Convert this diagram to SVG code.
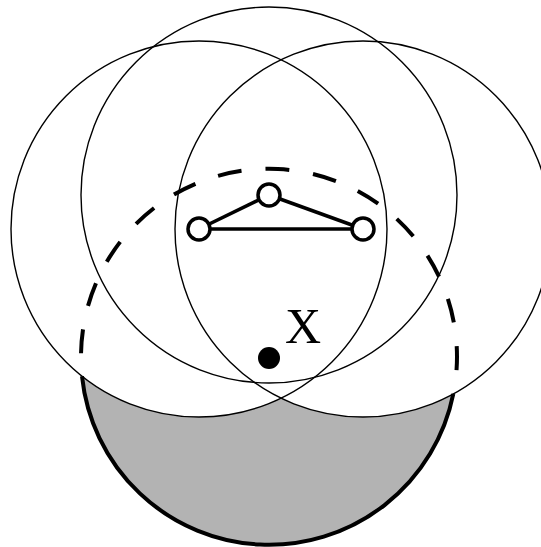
<svg xmlns="http://www.w3.org/2000/svg" width="541" height="547" viewBox="0 0 541 547">
<style>
.thin{fill:none;stroke:#000;stroke-width:1.4}
.node{fill:#fff;stroke:#000;stroke-width:3.5}
.edge{stroke:#000;stroke-width:3.5;fill:none}
</style>
<rect width="541" height="547" fill="#fff"/>
<g id="region">
<path d="M82,376.2 A188,188 0 0 0 281,398.2 A188,188 0 0 0 453.3,393.9 A188,188 0 0 1 82,376.2 Z" fill="#b3b3b3" stroke="none"/>
</g>
<g id="circles">
<circle id="circle-top" class="thin" cx="269" cy="195" r="188"/>
<circle id="circle-left" class="thin" cx="199" cy="229" r="188"/>
<circle id="circle-right" class="thin" cx="363" cy="229" r="188"/>
</g>
<g id="range">
<path d="M453.3,393.9 A188,188 0 0 1 82,376.2" fill="none" stroke="#000" stroke-width="4"/>
<path d="M82,376.2 A188,188 0 1 1 453.3,393.9" fill="none" stroke="#000" stroke-width="4" stroke-dasharray="24 24" stroke-dashoffset="25"/>
</g>
<g id="connectors">
<line class="edge" x1="199" y1="229" x2="363" y2="229"/>
<line class="edge" x1="199" y1="229" x2="269" y2="195"/>
<line class="edge" x1="269" y1="195" x2="363" y2="229"/>
</g>
<g id="node-a"><circle class="node" cx="199" cy="229" r="11"/></g>
<g id="node-b"><circle class="node" cx="269" cy="195" r="11"/></g>
<g id="node-c"><circle class="node" cx="363" cy="229" r="11"/></g>
<g id="point-x">
<circle cx="269" cy="358" r="11" fill="#000"/>
<text x="285" y="343" font-family="Liberation Serif, serif" font-size="50">X</text>
</g>
</svg>
